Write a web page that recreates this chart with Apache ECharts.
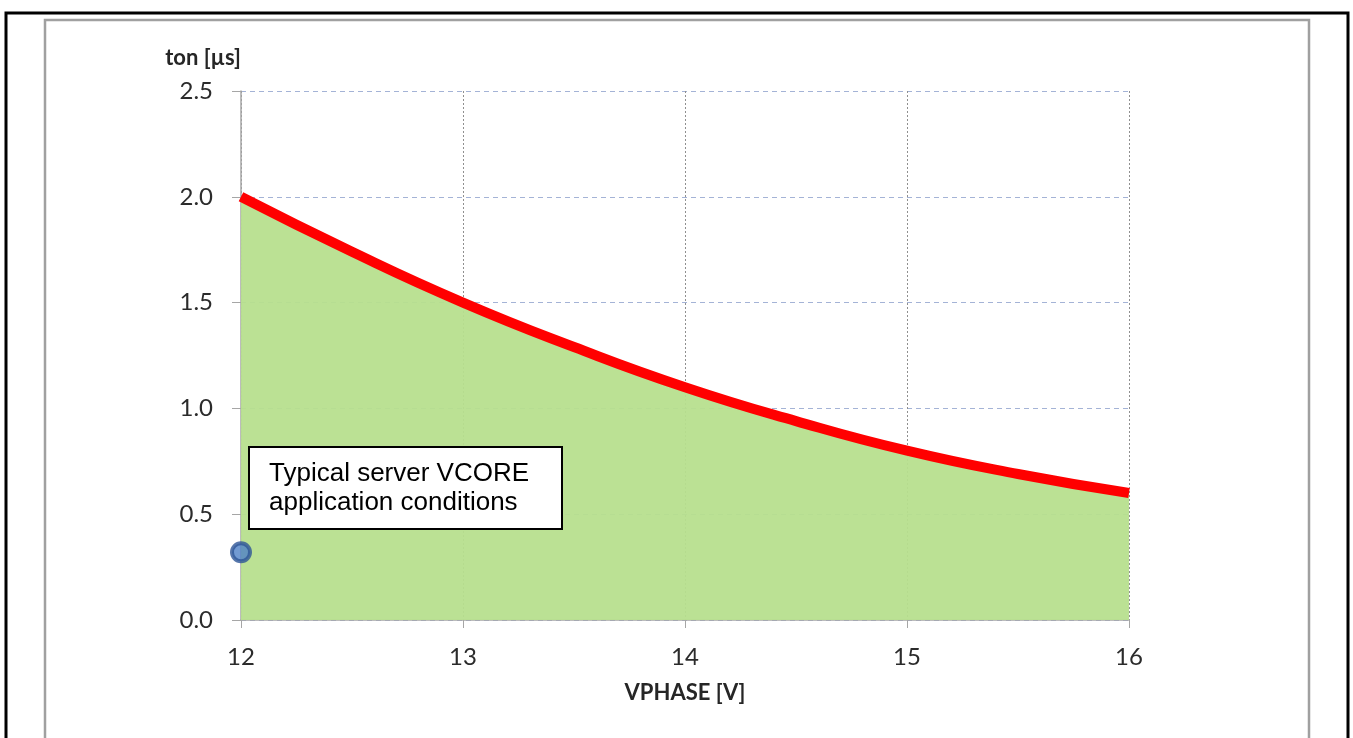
<!DOCTYPE html>
<html>
<head>
<meta charset="utf-8">
<script src="https://cdn.jsdelivr.net/npm/echarts@6/dist/echarts.min.js"></script>
<style>
  html, body { margin: 0; padding: 0; background: #fff; }
  #chart { width: 1353px; height: 738px; }
</style>
</head>
<body>
<div id="chart"></div>
<script>
// ton vs VPHASE curve
var vphase = [12, 12.5, 13, 13.5, 14, 14.5, 15, 15.5, 16];
var tonUs = [2.0, 1.74, 1.5, 1.29, 1.1, 0.94, 0.8, 0.69, 0.6];
// typical operating point
var typicalPoint = [12, 0.32];
var boxLines = ["Typical server VCORE", "application conditions"];

var curve = vphase.map(function (v, i) { return [v, tonUs[i]]; });

var chart = echarts.init(document.getElementById("chart"));
var labelFont = "Lato, 'Open Sans', sans-serif";

chart.setOption({
  animation: false,
  backgroundColor: "#ffffff",
  grid: { left: 241, right: 224, top: 91, bottom: 118 },
  xAxis: {
    type: "value",
    min: 12,
    max: 16,
    interval: 1,
    name: "VPHASE [V]",
    nameLocation: "middle",
    nameGap: 62,
    nameTextStyle: { fontFamily: labelFont, fontWeight: "bold", fontSize: 22, color: "#262626" },
    axisLine: { lineStyle: { color: "#a6a6a6", width: 1.5 } },
    axisTick: { show: true, length: 8, lineStyle: { color: "#a6a6a6" } },
    axisLabel: { margin: 25, fontFamily: labelFont, fontSize: 24, color: "#2b2b2b" },
    splitLine: { show: true, lineStyle: { color: "#8f8f8f", type: [2, 2], width: 1 } }
  },
  yAxis: {
    type: "value",
    min: 0,
    max: 2.5,
    interval: 0.5,
    name: "ton [µs]",
    nameLocation: "end",
    nameGap: 22,
    nameTextStyle: { fontFamily: labelFont, fontWeight: "bold", fontSize: 22, color: "#262626", align: "right" },
    axisLine: { show: true, lineStyle: { color: "#a6a6a6", width: 1.5 } },
    axisTick: { show: true, length: 9, lineStyle: { color: "#a6a6a6" } },
    axisLabel: {
      margin: 28,
      fontFamily: labelFont,
      fontSize: 24,
      color: "#2b2b2b",
      formatter: function (v) { return v.toFixed(1); }
    },
    splitLine: { show: true, lineStyle: { color: "#a4b3d6", type: [5, 4], width: 1.2 } }
  },
  series: [
    {
      type: "line",
      data: curve,
      smooth: true,
      symbol: "none",
      lineStyle: { color: "#ff0000", width: 10 },
      areaStyle: { color: "#b7df8e", opacity: 0.95 },
      z: 3
    },
    {
      type: "scatter",
      data: [typicalPoint],
      symbolSize: 18,
      itemStyle: { color: "#4f81c7", borderColor: "#2e5596", borderWidth: 4 },
      z: 5
    }
  ],
  graphic: [
    // outer frame
    { type: "rect", z: 100, shape: { x: 6, y: 13, width: 1342, height: 760 }, style: { fill: null, stroke: "#000", lineWidth: 3 }, silent: true },
    // inner chart-area frame
    { type: "rect", z: 100, shape: { x: 45, y: 20, width: 1264, height: 760 }, style: { fill: null, stroke: "#a0a0a0", lineWidth: 2.5 }, silent: true },
    // annotation box
    {
      type: "rect",
      z: 100,
      shape: { x: 249, y: 447, width: 313, height: 82 },
      style: { fill: "#fff", stroke: "#000", lineWidth: 2 }
    },
    {
      type: "text",
      z: 101,
      x: 269,
      y: 459,
      style: {
        text: boxLines.join("\n"),
        font: "26px 'Liberation Sans', Arial, sans-serif",
        fill: "#000",
        lineHeight: 29
      }
    }
  ]
});
</script>
</body>
</html>
